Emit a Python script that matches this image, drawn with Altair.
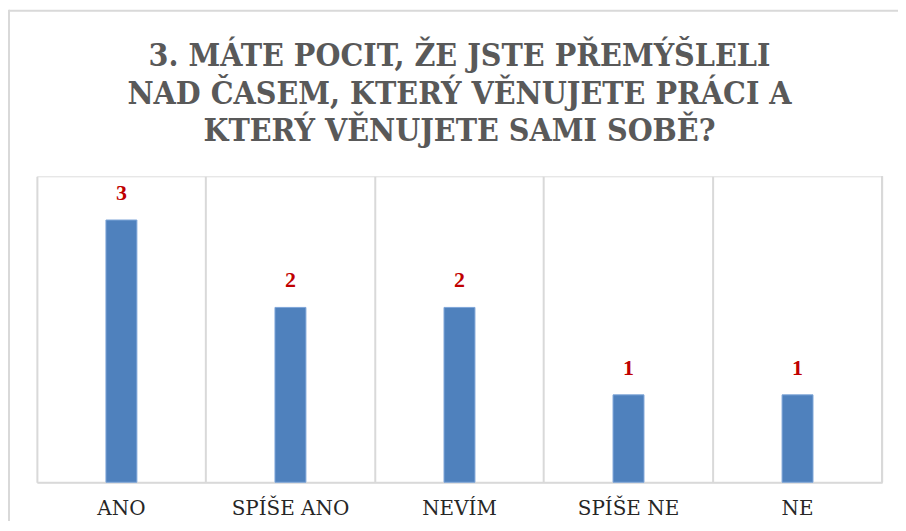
import altair as alt
import pandas as pd

categories = ["ANO", "SPÍŠE ANO", "NEVÍM", "SPÍŠE NE", "NE"]
values = [3, 2, 2, 1, 1]
title_lines = [
    "3. MÁTE POCIT, ŽE JSTE PŘEMÝŠLELI",
    "NAD ČASEM, KTERÝ VĚNUJETE PRÁCI A",
    "KTERÝ VĚNUJETE SAMI SOBĚ?",
]

df = pd.DataFrame({"kategorie": categories, "pocet": values})

W, H = 848, 307

x_enc = alt.X(
    "kategorie:N",
    sort=categories,
    scale=alt.Scale(paddingInner=0, paddingOuter=0),
    axis=alt.Axis(
        title=None,
        labelAngle=0,
        labelFont="DejaVu Serif",
        labelFontSize=20,
        labelColor="#262626",
        labelPadding=16,
        ticks=False,
        domainColor="#d9d9d9",
        domainWidth=2,
        grid=True,
        gridColor="#d9d9d9",
        gridWidth=2,
        bandPosition=0,
    ),
)
y_enc = alt.Y("pocet:Q", scale=alt.Scale(domain=[0, 3.5], nice=False), axis=None)

base = alt.Chart(df)

bars = base.mark_bar(
    color="#4F81BD", stroke="#7ea6d8", strokeWidth=1, width=alt.RelativeBandSize(0.183)
).encode(x=x_enc, y=y_enc)

labels = base.mark_text(
    font="Liberation Serif",
    fontSize=22,
    fontWeight="bold",
    color="#C00000",
    baseline="alphabetic",
    dy=-20,
).encode(x=alt.X("kategorie:N", sort=categories), y=y_enc, text="pocet:Q")

right_grid = base.mark_rule(color="#d9d9d9", strokeWidth=2).encode(
    x=alt.value(W), y=alt.value(0), y2=alt.value(H)
)

single = alt.Chart(pd.DataFrame({"n": [0]}))

frame_top = single.mark_rule(color="#d9d9d9", strokeWidth=2).encode(
    x=alt.value(-28), x2=alt.value(W + 100), y=alt.value(-166)
)
frame_left = single.mark_rule(color="#d9d9d9", strokeWidth=2).encode(
    x=alt.value(-28), y=alt.value(-167), y2=alt.value(H + 100)
)

title = single.mark_text(
    font="DejaVu Serif Condensed, Liberation Serif",
    fontSize=32,
    fontWeight="bold",
    color="#595959",
    lineHeight=38,
    align="center",
    baseline="alphabetic",
).encode(x=alt.value(W / 2), y=alt.value(-111), text=alt.value(title_lines))

chart = (
    alt.layer(frame_top, frame_left, right_grid, bars, labels, title)
    .properties(
        width=W,
        height=H,
        autosize=alt.AutoSizeParams(type="none"),
        padding={"left": 29, "top": 168, "right": 16, "bottom": 38},
    )
    .configure_view(stroke=None)
    .configure(background="white")
)

chart.save("out.html", embed_options={"renderer": "svg", "actions": False})
